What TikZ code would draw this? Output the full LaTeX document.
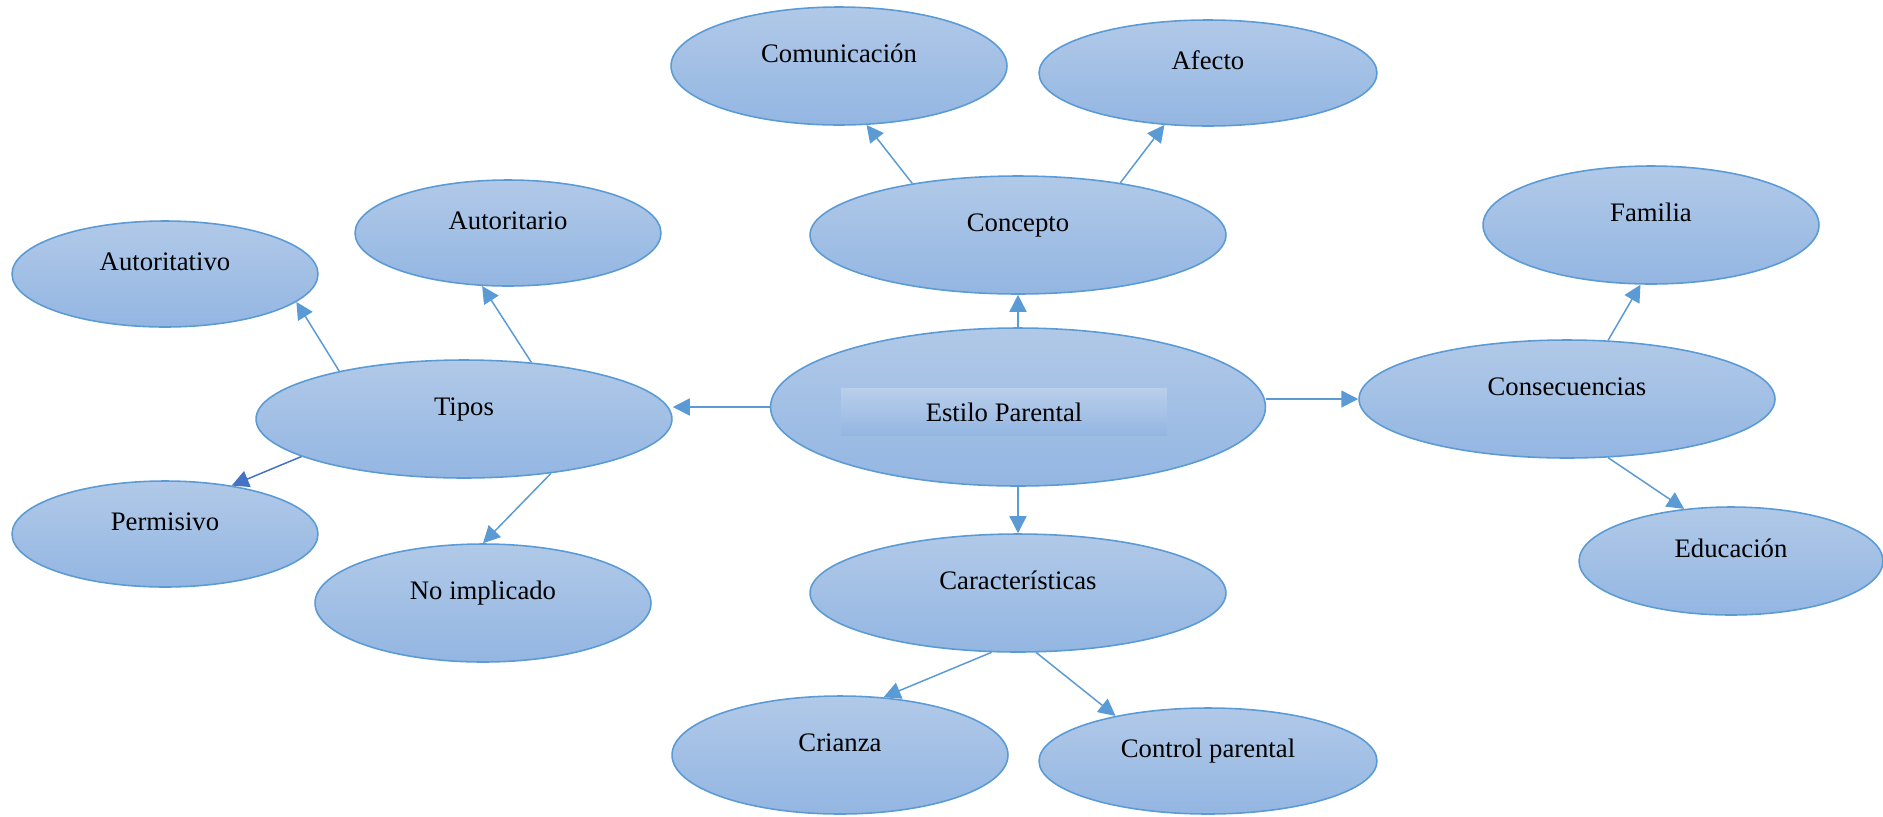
\documentclass[tikz,border=0pt]{standalone}
\usepackage{fontspec}
\setmainfont{Liberation Serif}
\usetikzlibrary{shapes.geometric,arrows.meta}

\definecolor{edgeblue}{HTML}{5B9BD5}
\definecolor{darkblue}{HTML}{4472C4}
\definecolor{filltop}{HTML}{B1C9E8}
\definecolor{fillbottom}{HTML}{93B6E2}

\tikzset{
  concept/.style={ellipse, draw=edgeblue, line width=0.9pt,
    top color=filltop, bottom color=fillbottom, inner sep=0pt,
    font=\fontsize{15.2}{18}\selectfont, text height=0.4cm, text depth=0.56cm},
  bigidea/.style={concept, minimum width=8.32cm, minimum height=2.36cm},
  leaf/.style={concept, minimum width=6.72cm, minimum height=2.36cm},
  smallleaf/.style={concept, minimum width=6.12cm, minimum height=2.12cm},
  titlebox/.style={rectangle, top color=filltop!90!white, bottom color=fillbottom,
    minimum width=6.52cm, minimum height=0.94cm, inner sep=0pt,
    font=\fontsize{15.2}{18}\selectfont},
  link/.style={draw=edgeblue, line width=0.85pt, -{Triangle[length=0.34cm,width=0.34cm]}},
}

\begin{document}
\begin{tikzpicture}[x=0.02cm, y=-0.02cm]
      \useasboundingbox (0,0) rectangle (1883,816);
      % Define nodes
      \node[concept, minimum width=9.9cm, minimum height=3.16cm] (estilo) at (1018,407) {};
      \node[titlebox] (titulo) at (1004,412) {Estilo Parental};
      \node[bigidea] (concepto) at (1018,235) {Concepto};
      \node[bigidea] (caracteristicas) at (1018,593) {Características};
      \node[bigidea] (tipos) at (464,419) {Tipos};
      \node[bigidea] (consecuencias) at (1567,399) {Consecuencias};
      \node[leaf] (comunicacion) at (839,66) {Comunicación};
      \node[leaf, minimum width=6.76cm, minimum height=2.12cm] (afecto) at (1208,73) {Afecto};
      \node[leaf] (crianza) at (840,755) {Crianza};
      \node[leaf, minimum width=6.76cm, minimum height=2.12cm] (control) at (1208,761) {Control parental};
      \node[smallleaf] (autoritario) at (508,233) {Autoritario};
      \node[smallleaf] (autoritativo) at (165,274) {Autoritativo};
      \node[smallleaf] (permisivo) at (165,534) {Permisivo};
      \node[leaf] (noimplicado) at (483,603) {No implicado};
      \node[leaf] (familia) at (1651,225) {Familia};
      \node[smallleaf, minimum width=6.08cm, minimum height=2.16cm] (educacion) at (1731,561) {Educación};
      % Connect nodes
      \draw[link] (estilo.north) -- (concepto.south);
      \draw[link] (estilo.south) -- (caracteristicas.north);
      \draw[link] (estilo.west) -- (estilo.west -| tipos.east);
      \draw[link] (estilo.east |- consecuencias.west) -- (consecuencias.west);
      \draw[link] (concepto.154) -- (comunicacion.295);
      \draw[link] (concepto.27) -- (afecto.230);
      \draw[link] (tipos.40) -- (autoritario.244);
      \draw[link] (tipos.159) -- (autoritativo.348);
      \draw[link, draw=darkblue, fill=darkblue] (tipos.193) -- (permisivo.36);
      \draw[link] (tipos.328) -- (noimplicado.90);
      \draw[link] (caracteristicas.246) -- (crianza.53);
      \draw[link] (caracteristicas.287) -- (control.154);
      \draw[link] (consecuencias.55) -- (familia.260);
      \draw[link] (consecuencias.305) -- (educacion.132);
    \end{tikzpicture}
\end{document}
